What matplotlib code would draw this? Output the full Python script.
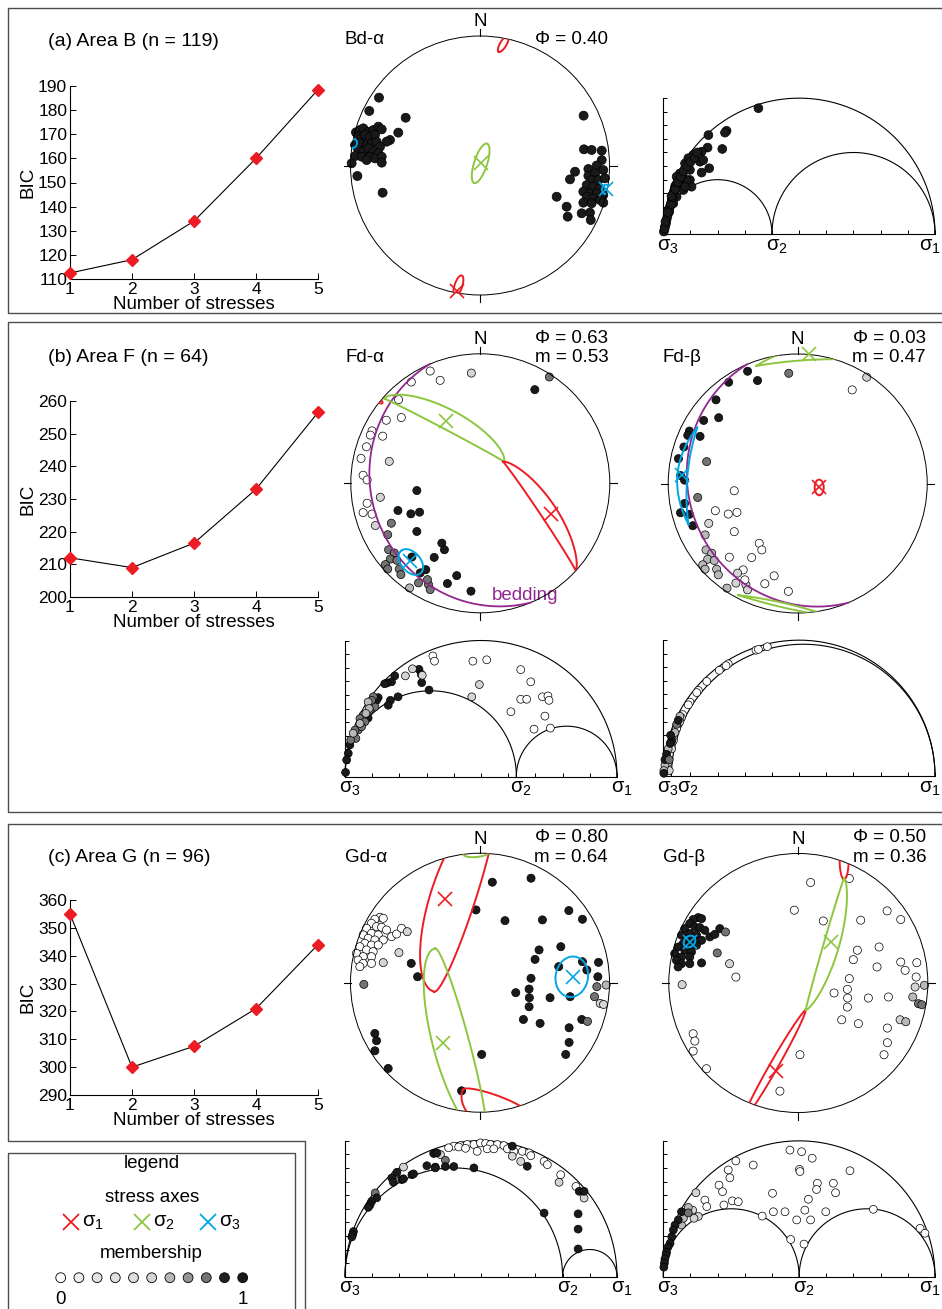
import numpy as np
import matplotlib
matplotlib.use("Agg")
import matplotlib.pyplot as plt
from matplotlib.patches import Circle

plt.rcParams['font.family'] = ['Liberation Sans', 'DejaVu Sans']
plt.rcParams['mathtext.fontset'] = 'custom'
plt.rcParams['mathtext.rm'] = 'Liberation Sans'
plt.rcParams['mathtext.it'] = 'Liberation Sans:italic'

# ---------------------------------------------------------------- data
N_STRESSES = [1, 2, 3, 4, 5]
BIC_B = [112.5, 118.0, 134.0, 160.0, 188.5]
BIC_F = [212.0, 209.0, 216.5, 233.0, 256.5]
BIC_G = [355.0, 300.0, 307.5, 321.0, 344.0]
BIC_TICKS_B = [110, 120, 130, 140, 150, 160, 170, 180, 190]
BIC_TICKS_F = [200, 210, 220, 230, 240, 250, 260]
BIC_TICKS_G = [290, 300, 310, 320, 330, 340, 350, 360]

# stress ratios and mixing weights of each solution
PHI = {'Bd-α': 0.40, 'Fd-α': 0.63, 'Fd-β': 0.03, 'Gd-α': 0.80, 'Gd-β': 0.50}
MIX = {'Fd-α': 0.53, 'Fd-β': 0.47, 'Gd-α': 0.64, 'Gd-β': 0.36}

# poles of area B (equal-area net, east / north)
B_EAST = [-0.78, -0.855, -0.574, -0.958, -0.927, -0.901, -0.862, -0.824, -0.785, -0.759,
          -0.631, -0.94, -0.914, -0.888, -0.849, -0.811, -0.695, -0.721, -0.965, -0.927,
          -0.875, -0.837, -0.798, -0.772, -0.94, -0.901, -0.862, -0.824, -0.785, -0.965,
          -0.914, -0.849, -0.811, -0.759, -0.991, -0.875, -0.759, -0.947, -0.752,
          0.80, 0.803, 0.862, 0.94, 0.94, 0.901, 0.837, 0.734, 0.695, 0.837,
          0.888, 0.952, 0.862, 0.914, 0.965, 0.824, 0.875, 0.927, 0.798, 0.849,
          0.901, 0.952, 0.592, 0.824, 0.875, 0.927, 0.798, 0.862, 0.952, 0.669,
          0.785, 0.849, 0.677, 0.855]
B_NORTH = [0.524, 0.421, 0.369, 0.256, 0.274, 0.287, 0.261, 0.274, 0.30, 0.279,
           0.254, 0.223, 0.21, 0.236, 0.223, 0.236, 0.197, 0.184, 0.158, 0.171,
           0.158, 0.171, 0.184, 0.145, 0.12, 0.107, 0.133, 0.107, 0.094, 0.073,
           0.068, 0.068, 0.055, 0.068, 0.017, 0.042, 0.022, -0.081, -0.21,
           0.385, 0.125, 0.12, 0.115, 0.042, 0.0, -0.027, -0.048, -0.107, -0.079,
           -0.06, -0.035, -0.112, -0.112, -0.099, -0.151, -0.163, -0.176, -0.202, -0.215,
           -0.215, -0.228, -0.241, -0.241, -0.254, -0.266, -0.287, -0.292, -0.287, -0.318,
           -0.369, -0.364, -0.395, -0.421]

# poles of area F and their memberships to solutions alpha / beta
F_EAST = [-0.387, -0.31, -0.533, -0.631, -0.61, -0.726, -0.836, -0.849, -0.754, -0.879,
          -0.921, -0.905, -0.874, -0.874, -0.905, -0.836, -0.81, -0.069, -0.703, -0.772,
          0.533, 0.421, -0.49, -0.636, -0.536, -0.469, -0.49, -0.297, -0.277, -0.356,
          -0.421, -0.464, -0.182, -0.254, -0.072, -0.528, -0.687, -0.715, -0.708, -0.664,
          -0.695, -0.733, -0.715, -0.644, -0.626, -0.613, -0.546, -0.477, -0.4, -0.387,
          -0.408]
F_NORTH = [0.867, 0.795, 0.782, 0.646, 0.508, 0.487, 0.405, 0.372, 0.364, 0.282,
           0.192, 0.062, 0.026, -0.154, -0.226, -0.238, -0.326, 0.851, 0.169, -0.108,
           0.821, 0.723, -0.056, -0.21, -0.236, -0.223, -0.372, -0.462, -0.513, -0.572,
           -0.667, -0.692, -0.713, -0.774, -0.833, -0.569, -0.308, -0.397, -0.513, -0.538,
           -0.585, -0.628, -0.662, -0.595, -0.662, -0.705, -0.808, -0.769, -0.782, -0.821,
           -0.744]
F_M_ALPHA = [0, 0, 0, 0, 0, 0, 0, 0, 0, 0, 0, 0, 0, 0, 0, 0, 0.5, 0.5, 0.5, 0.5,
             0.8, 1, 1, 1, 1, 1, 1, 1, 1, 1, 1, 1, 1, 1, 1, 1, 0.8, 0.8, 0.8, 0.8,
             0.8, 0.8, 0.8, 0.8, 0.8, 0.8, 0.6, 0.8, 0.8, 0.8, 0.8]
F_M_BETA = [1, 1, 1, 1, 1, 1, 1, 1, 1, 1, 1, 1, 1, 1, 1, 1, 1, 0.8, 0.8, 0.8,
            0.5, 0, 0, 0, 0, 0, 0, 0, 0, 0, 0, 0.5, 0, 0, 0, 0, 0.5, 0.6, 0.6, 0.6,
            0.6, 0.6, 0.6, 0.6, 0.6, 0.6, 0.6, 0.5, 0.5, 0.5, 0]
F_BEDDING = (247.0, 17.0)   # dip direction, dip

# poles of area G and their memberships
G_EAST = [-0.773, -0.747, -0.812, -0.838, -0.799, -0.76, -0.722, -0.876, -0.838, -0.786,
          -0.902, -0.863, -0.812, -0.747, -0.683, -0.644, -0.606, -0.889, -0.838, -0.786,
          -0.928, -0.876, -0.825, -0.954, -0.902, -0.838, -0.941, -0.902, -0.838, -0.928,
          -0.562, -0.626, -0.747, -0.897, -0.531, -0.482, -0.812, -0.799, -0.812, -0.709,
          0.095, 0.394, -0.031, 0.193, 0.482, 0.686, 0.791, 0.624, 0.456, 0.425,
          0.608, 0.791, 0.915, 0.825, 0.91, 0.394, 0.276, 0.379, 0.381, 0.541,
          0.696, 0.379, 0.335, 0.464, 0.688, 0.786, 0.688, 0.662, 0.013, -0.142,
          0.902, 0.974, 0.884, 0.928, 0.954, 0.83]
G_NORTH = [0.505, 0.497, 0.49, 0.459, 0.433, 0.428, 0.407, 0.42, 0.381, 0.369,
           0.369, 0.343, 0.33, 0.33, 0.356, 0.376, 0.42, 0.304, 0.291, 0.291,
           0.278, 0.253, 0.24, 0.227, 0.201, 0.201, 0.175, 0.149, 0.149, 0.124,
           0.394, 0.232, 0.155, -0.013, 0.149, 0.046, -0.392, -0.448, -0.526, -0.662,
           0.776, 0.807, 0.562, 0.479, 0.485, 0.557, 0.49, 0.278, 0.253, 0.18,
           0.124, 0.162, 0.157, 0.098, 0.046, 0.034, -0.077, -0.049, -0.116, -0.116,
           -0.108, -0.186, -0.284, -0.314, -0.348, -0.284, -0.461, -0.554, -0.554, -0.835,
           -0.031, -0.018, -0.108, -0.16, -0.168, -0.299]
G_M_ALPHA = [0, 0, 0, 0, 0, 0, 0, 0, 0, 0, 0, 0, 0, 0, 0, 0, 0, 0, 0, 0,
             0, 0, 0, 0, 0, 0, 0, 0, 0, 0, 0.5, 0.5, 0.5, 0.8, 1, 1, 1, 1, 1, 1,
             1, 1, 1, 1, 1, 1, 1, 1, 1, 1, 1, 1, 1, 1, 1, 1, 1, 1, 1, 1,
             1, 1, 1, 1, 1, 1, 1, 1, 1, 1, 0.8, 0.6, 0.8, 0.5, 0.5, 0.8]
G_M_BETA = [1, 1, 1, 1, 1, 1, 1, 1, 1, 1, 1, 1, 1, 1, 1, 1, 1, 1, 1, 1,
            1, 1, 1, 1, 1, 1, 1, 1, 1, 1, 0.8, 0.8, 1, 0.5, 0.5, 0, 0, 0, 0, 0,
            0, 0, 0, 0, 0, 0, 0, 0, 0, 0, 0, 0, 0, 0, 0, 0, 0, 0, 0, 0,
            0, 0, 0, 0, 0, 0.5, 0, 0, 0, 0, 0.5, 0.6, 0.6, 0.8, 0.8, 0.6]

# confidence regions: (axis, centre east, centre north, half length,
#                      width on + side, width on - side, azimuth of long axis, profile power)
BD_REGIONS = [(1, 0.18, 0.938, 0.07, 0.025, 0.025, 59, 0.5),
              (1, -0.167, -0.93, 0.085, 0.03, 0.03, 72, 0.5),
              (2, 0.005, 0.017, 0.16, 0.05, 0.05, 72, 0.5),
              (3, -0.978, 0.171, 0.035, 0.028, 0.028, 80, 0.5),
              (3, 0.97, -0.184, 0.035, 0.028, 0.028, 80, 0.5)]
FA_REGIONS = [(2, -0.279, 0.41, 0.522, 0.165, -0.01, -27.8, 0.6),
              (1, 0.456, -0.253, 0.504, 0.14, -0.015, -56.3, 0.7),
              (1, -0.79, 0.64, 0.04, 0.015, 0.015, -30, 0.5),
              (3, -0.536, -0.608, 0.115, 0.075, 0.075, -48.7, 0.5)]
FB_REGIONS = [(2, 0.1, 0.93, 0.42, 0.12, -0.025, 3, 1.0),
              (2, -0.1, -0.945, 0.37, 0.02, 0.015, -13, 1.0),
              (3, -0.809, 0.06, 0.377, 0.12, -0.043, 84.7, 1.0),
              (1, 0.166, -0.03, 0.06, 0.035, 0.035, 90, 0.5)]
GA_REGIONS = [(1, -0.124, 0.643, 0.75, 0.26, 0.086, 72, 0.5),
              (1, 0.12, -0.92, 0.27, 0.05, 0.2, -20, 0.5),
              (2, -0.154, -0.459, 0.75, 0.07, 0.21, -75, 0.5),
              (2, -0.03, 1.0, 0.1, 0.03, 0.03, 5, 0.5),
              (3, 0.709, 0.046, 0.157, 0.125, 0.125, 80, 0.5)]
GB_REGIONS = [(1, -0.191, -0.643, 0.5, 0.032, 0.032, -119.7, 0.6),
              (1, 0.354, 0.95, 0.15, 0.035, 0.035, 90, 0.5),
              (2, 0.2055, 0.301, 0.531, 0.01, 0.11, 73.8, 0.7),
              (3, -0.84, 0.32, 0.05, 0.04, 0.04, 45, 0.5)]

# optimal principal axes: (axis, east, north)
BD_AXES = [(1, -0.18, -0.966), (2, 0.005, 0.017), (3, 0.97, -0.184)]
FA_AXES = [(1, 0.549, -0.238), (2, -0.267, 0.482), (3, -0.541, -0.603)]
FB_AXES = [(1, 0.166, -0.03), (2, 0.091, 1.0), (3, -0.891, 0.066)]
GA_AXES = [(1, -0.271, 0.647), (2, -0.284, -0.464), (3, 0.72, 0.046)]
GB_AXES = [(1, -0.173, -0.68), (2, 0.251, 0.313), (3, -0.84, 0.32)]

# normalised Mohr-diagram positions (normal stress, shear stress) and memberships
MOHR_B_SN = [0.35, 0.166, 0.233, 0.227, 0.217, 0.163, 0.141, 0.11, 0.135, 0.147,
             0.169, 0.141, 0.08, 0.092, 0.098, 0.098, 0.104, 0.061, 0.055, 0.043,
             0.037, 0.031, 0.025, 0.018, 0.012, 0.006, 0.002, 0.049, 0.067, 0.074,
             0.049, 0.037, 0.022, 0.015, 0.01, 0.086, 0.08, 0.02, 0.028, 0.033,
             0.04, 0.046, 0.06, 0.07, 0.005, 0.008, 0.03, 0.045, 0.052, 0.065,
             0.075, 0.088, 0.1, 0.115, 0.125, 0.016]
MOHR_B_TAU = [0.463, 0.364, 0.38, 0.373, 0.313, 0.318, 0.303, 0.291, 0.266, 0.272,
              0.242, 0.226, 0.26, 0.279, 0.236, 0.199, 0.174, 0.223, 0.199, 0.174,
              0.15, 0.125, 0.101, 0.076, 0.052, 0.027, 0.009, 0.211, 0.187, 0.162,
              0.137, 0.113, 0.082, 0.064, 0.039, 0.199, 0.174, 0.09, 0.11, 0.135,
              0.16, 0.18, 0.2, 0.215, 0.02, 0.045, 0.14, 0.165, 0.19, 0.21,
              0.23, 0.25, 0.265, 0.28, 0.3, 0.08]

MOHR_FA_SN = [0.272, 0.28, 0.282, 0.183, 0.171, 0.155, 0.146, 0.309, 0.195, 0.167,
              0.159, 0.122, 0.116, 0.085, 0.018, 0.012, 0.006, 0.002,
              0.104, 0.11, 0.098, 0.091, 0.067, 0.055, 0.073, 0.049, 0.037, 0.033,
              0.04, 0.021, 0.061,
              0.085, 0.089, 0.077, 0.055, 0.03,
              0.248, 0.222, 0.284, 0.494, 0.466,
              0.323, 0.329, 0.47, 0.521, 0.646, 0.683, 0.646, 0.668, 0.726, 0.746,
              0.75, 0.61, 0.735, 0.695, 0.755]
MOHR_FA_TAU = [0.394, 0.376, 0.345, 0.37, 0.348, 0.344, 0.341, 0.318, 0.293, 0.28,
               0.262, 0.29, 0.28, 0.215, 0.116, 0.085, 0.061, 0.015,
               0.293, 0.256, 0.28, 0.244, 0.226, 0.213, 0.201, 0.171, 0.171, 0.146,
               0.14, 0.134, 0.183,
               0.274, 0.25, 0.232, 0.195, 0.159,
               0.396, 0.37, 0.372, 0.338, 0.293,
               0.443, 0.424, 0.424, 0.429, 0.393, 0.348, 0.284, 0.284, 0.293, 0.296,
               0.28, 0.238, 0.222, 0.174, 0.178]
MOHR_FA_M = [1, 1, 1, 1, 1, 1, 1, 1, 1, 1, 1, 1, 1, 1, 1, 1, 1, 1,
             0.8, 0.8, 0.8, 0.8, 0.8, 0.8, 0.8, 0.8, 0.8, 0.8, 0.8, 0.8, 0.8,
             0.6, 0.6, 0.6, 0.6, 0.6,
             0.5, 0.5, 0.5, 0.5, 0.5,
             0, 0, 0, 0, 0, 0, 0, 0, 0, 0, 0, 0, 0, 0, 0]

MOHR_FB_SN = [0.341, 0.35, 0.383, 0.239, 0.231, 0.206, 0.16, 0.129, 0.123, 0.098,
              0.092, 0.071, 0.061, 0.049, 0.037,
              0.067, 0.061, 0.037, 0.031, 0.018, 0.022,
              0.061, 0.018, 0.006, 0.002, 0.043,
              0.031, 0.025, 0.012, 0.006, 0.002, 0.022, 0.027, 0.049, 0.055]
MOHR_FB_TAU = [0.463, 0.466, 0.476, 0.413, 0.406, 0.389, 0.348, 0.315, 0.307, 0.272,
               0.262, 0.226, 0.205, 0.175, 0.14,
               0.215, 0.2, 0.13, 0.1, 0.05, 0.02,
               0.22, 0.1, 0.04, 0.02, 0.16,
               0.13, 0.12, 0.08, 0.06, 0.01, 0.06, 0.15, 0.19, 0.205]
MOHR_FB_M = [0, 0, 0, 0, 0, 0, 0, 0, 0, 0, 0, 0, 0, 0, 0,
             0.5, 0.5, 0.5, 0.5, 0.5, 0.5,
             0.6, 0.6, 0.6, 0.6, 0.6,
             1, 1, 1, 1, 1, 0.8, 1, 0.8, 1]

MOHR_GA_SN = [0.424, 0.449, 0.474, 0.498, 0.517, 0.535, 0.56, 0.584, 0.4, 0.381,
              0.486, 0.523, 0.547, 0.597, 0.621, 0.652, 0.677, 0.683, 0.732, 0.744,
              0.793, 0.849, 0.418, 0.443,
              0.351, 0.615, 0.646, 0.787, 0.879, 0.215,
              0.369, 0.185, 0.111,
              0.326, 0.338, 0.615, 0.67, 0.301, 0.332, 0.332, 0.369, 0.4, 0.474,
              0.246, 0.252, 0.209, 0.215, 0.172, 0.178, 0.191, 0.117, 0.098, 0.092,
              0.086, 0.031, 0.028, 0.025, 0.732, 0.861, 0.879, 0.857, 0.857, 0.857]
MOHR_GA_TAU = [0.482, 0.486, 0.486, 0.492, 0.49, 0.486, 0.486, 0.482, 0.48, 0.474,
               0.461, 0.47, 0.47, 0.47, 0.461, 0.461, 0.455, 0.445, 0.424, 0.412,
               0.375, 0.332, 0.477, 0.472,
               0.449, 0.443, 0.424, 0.347, 0.289, 0.403,
               0.428, 0.375, 0.308,
               0.453, 0.455, 0.48, 0.406, 0.408, 0.403, 0.4, 0.405, 0.405, 0.4,
               0.375, 0.378, 0.357, 0.36, 0.363, 0.347, 0.384, 0.29, 0.277, 0.264,
               0.255, 0.166, 0.154, 0.146, 0.234, 0.314, 0.314, 0.231, 0.175, 0.102]
MOHR_GA_M = [0, 0, 0, 0, 0, 0, 0, 0, 0, 0, 0, 0, 0, 0, 0, 0, 0, 0, 0, 0, 0, 0, 0, 0,
             0.5, 0.5, 0.5, 0.5, 0.5, 0.5,
             0.8, 0.8, 0.8,
             1, 1, 1, 1, 1, 1, 1, 1, 1, 1, 1, 1, 1, 1, 1, 1, 1, 1, 1, 1,
             1, 1, 1, 1, 1, 1, 1, 1, 1, 1]

MOHR_GB_SN = [0.466, 0.509, 0.548, 0.501, 0.503, 0.687, 0.267, 0.239, 0.245, 0.331,
              0.205, 0.218, 0.402, 0.634, 0.567, 0.564, 0.534, 0.153, 0.16, 0.223,
              0.254, 0.276, 0.364, 0.405, 0.448, 0.491, 0.521, 0.542, 0.598, 0.773,
              0.945, 0.963, 0.469, 0.518, 0.626,
              0.12, 0.108, 0.129, 0.113,
              0.067, 0.092, 0.074,
              0.067, 0.055, 0.043, 0.037, 0.031, 0.025, 0.018, 0.012, 0.01, 0.006,
              0.004, 0.002, 0.092]
MOHR_GB_TAU = [0.466, 0.46, 0.436, 0.395, 0.387, 0.39, 0.426, 0.393, 0.364, 0.411,
               0.337, 0.313, 0.307, 0.309, 0.344, 0.321, 0.285, 0.282, 0.258, 0.264,
               0.279, 0.276, 0.223, 0.239, 0.239, 0.209, 0.245, 0.209, 0.239, 0.248,
               0.178, 0.16, 0.137, 0.12, 0.344,
               0.309, 0.245, 0.222, 0.215,
               0.19, 0.255, 0.215,
               0.239, 0.209, 0.19, 0.172, 0.147, 0.123, 0.11, 0.09, 0.08, 0.065,
               0.05, 0.035, 0.235]
MOHR_GB_M = [0, 0, 0, 0, 0, 0, 0, 0, 0, 0, 0, 0, 0, 0, 0, 0, 0, 0, 0, 0,
             0, 0, 0, 0, 0, 0, 0, 0, 0, 0, 0, 0, 0, 0, 0,
             0.5, 0.5, 0.5, 0.5,
             0.6, 0.6, 0.6,
             1, 1, 1, 1, 1, 1, 1, 1, 1, 1, 1, 1, 0.8]

# membership scale shown in the legend
LEGEND_M = [0.0, 0.1, 0.2, 0.3, 0.4, 0.5, 0.6, 0.7, 0.8, 0.9, 1.0]
LEGEND_GRAY = [1.0, 0.93, 0.89, 0.88, 0.87, 0.83, 0.72, 0.58, 0.45, 0.13, 0.1]

# ---------------------------------------------------------------- styling
RED = '#ed1c24'
GREEN = '#8cc63f'
BLUE = '#00a6e6'
PURPLE = '#92278f'
BOX = '#4d4d4d'
AXIS_COLOR = {1: RED, 2: GREEN, 3: BLUE}
FS = 13.5

W, H = 942, 1309
fig = plt.figure(figsize=(W / 100, H / 100), dpi=100, facecolor='white')

ov = fig.add_axes([0, 0, 1, 1])
ov.set_xlim(0, W)
ov.set_ylim(H, 0)
ov.axis('off')


def px_axes(x0, y0, x1, y1):
    ax = fig.add_axes([x0 / W, 1 - y1 / H, (x1 - x0) / W, (y1 - y0) / H])
    ax.patch.set_alpha(0)
    return ax


def shade(m):
    g = float(np.interp(m, LEGEND_M, LEGEND_GRAY))
    return (g, g, g)


def region_outline(cx, cy, a, bp, bn, ang, p, n=240):
    s = np.linspace(-1, 1, n)
    prof = (1 - s ** 2) ** p
    xs = np.concatenate([a * s, a * s[::-1]])
    ys = np.concatenate([bp * prof, -bn * prof[::-1]])
    t = np.radians(ang)
    return (cx + xs * np.cos(t) - ys * np.sin(t),
            cy + xs * np.sin(t) + ys * np.cos(t))


def great_circle(dip_dir, dip):
    dd, dp = np.radians(dip_dir), np.radians(dip)
    st = dd - np.pi / 2
    t = np.linspace(0, np.pi, 300)
    e = np.cos(t) * np.sin(st) + np.sin(t) * np.sin(dd) * np.cos(dp)
    n = np.cos(t) * np.cos(st) + np.sin(t) * np.cos(dd) * np.cos(dp)
    d = np.sin(t) * np.sin(dp)
    plunge = np.arcsin(np.clip(d, -1, 1))
    trend = np.arctan2(e, n)
    r = np.sqrt(2) * np.sin((np.pi / 2 - plunge) / 2)
    return r * np.sin(trend), r * np.cos(trend)


R_PX = 129.5


def stereonet(cx, cy, name, east, north, memb, regions, axes_pts, bedding=None, dot=34):
    pad = 1.25
    ax = px_axes(cx - pad * R_PX, cy - pad * R_PX, cx + pad * R_PX, cy + pad * R_PX)
    ax.set_xlim(-pad, pad)
    ax.set_ylim(-pad, pad)
    ax.axis('off')
    prim = Circle((0, 0), 1.0, fill=False, ec='black', lw=0.7, zorder=3)
    ax.add_patch(prim)
    tk = 7.0 / R_PX
    for az in (0, 90, 180, 270):
        e, n = np.sin(np.radians(az)), np.cos(np.radians(az))
        ax.plot([e, e * (1 + tk)], [n, n * (1 + tk)], color='black', lw=0.8,
                zorder=3, clip_on=False)
    ax.scatter(east, north, s=dot, c=[shade(v) for v in memb], edgecolors='black',
               linewidths=0.5, zorder=2, clip_on=False)
    if bedding is not None:
        be, bn = great_circle(*bedding)
        ax.plot(be, bn, color=PURPLE, lw=1.3, zorder=3.5)
    for reg in regions:
        x, y = region_outline(*reg[1:])
        line, = ax.plot(x, y, color=AXIS_COLOR[reg[0]], lw=1.4, zorder=4)
        line.set_clip_path(prim)
    for k, e, n in axes_pts:
        ax.plot(e, n, ls='none', marker='x', ms=10.5, mew=1.2,
                color=AXIS_COLOR[k], zorder=5, clip_on=False)
    ov.text(cx, cy - R_PX - 14, 'N', ha='center', va='center', fontsize=FS)
    ov.text(cx - 135, cy - 125.5, name, ha='left', va='center', fontsize=FS)
    if name in MIX:
        ov.text(cx + 128, cy - 145, 'Φ = %.2f' % PHI[name], ha='right', va='center', fontsize=FS)
        ov.text(cx + 128, cy - 125.5, 'm = %.2f' % MIX[name], ha='right', va='center', fontsize=FS)
    else:
        ov.text(cx + 128, cy - 125.5, 'Φ = %.2f' % PHI[name], ha='right', va='center', fontsize=FS)
    return ax


def mohr(x0, x1, ybase, phi, sn, tau, memb, dot=32):
    L = x1 - x0
    ax = px_axes(x0, ybase - 0.5 * L, x1, ybase)
    ax.set_xlim(0, 1)
    ax.set_ylim(0, 0.5)
    for sp in ('top', 'right'):
        ax.spines[sp].set_visible(False)
    for sp in ('left', 'bottom'):
        ax.spines[sp].set_linewidth(0.8)
    ax.set_xticks(np.arange(0, 1.001, 0.1))
    ax.set_yticks(np.arange(0, 0.5001, 0.05))
    ax.tick_params(direction='in', length=3, width=0.7,
                   labelbottom=False, labelleft=False)
    t = np.linspace(0, np.pi, 400)
    for c, r in ((0.5, 0.5), (phi / 2, phi / 2), ((1 + phi) / 2, (1 - phi) / 2)):
        ax.plot(c + r * np.cos(t), r * np.sin(t), color='black', lw=0.8, clip_on=False)
    ax.scatter(sn, tau, s=dot, c=[shade(v) for v in memb], edgecolors='black',
               linewidths=0.5, zorder=3, clip_on=False)
    x2 = max(x0 + phi * L, x0 + 20)
    for xp, sub in ((x0, '3'), (x2, '2'), (min(x1, W - 17), '1')):
        ov.text(xp - 6, ybase + 12, r'$\mathregular{\sigma_{%s}}$' % sub,
                ha='left', va='center', fontsize=14.5)
    return ax


def bic_panel(ytop, ybot, vals, ticks, title, title_y):
    ax = px_axes(70, ytop, 318, ybot)
    ax.plot(N_STRESSES, vals, color='black', lw=0.8, zorder=2, clip_on=False)
    ax.plot(N_STRESSES, vals, ls='none', marker='D', ms=6.5, mfc=RED, mec=RED,
            zorder=3, clip_on=False)
    ax.set_xlim(1, 5)
    ax.set_ylim(ticks[0], ticks[-1])
    ax.set_xticks(N_STRESSES)
    ax.set_yticks(ticks)
    for sp in ('top', 'right'):
        ax.spines[sp].set_visible(False)
    for sp in ('left', 'bottom'):
        ax.spines[sp].set_linewidth(0.8)
    ax.tick_params(direction='in', length=4, width=0.7, labelsize=12.5, pad=2)
    ov.text(194, ybot + 25.5, 'Number of stresses', ha='center', va='center', fontsize=FS)
    ov.text(28, (ytop + ybot) / 2, 'BIC', rotation=90, ha='center', va='center', fontsize=FS)
    ov.text(48, title_y, title, ha='left', va='center', fontsize=14)
    return ax


# ---------------------------------------------------------------- panel frames
ov.plot([942, 8, 8, 942], [8, 8, 313, 313], color=BOX, lw=1.0)
ov.plot([942, 8, 8, 942], [322, 322, 812, 812], color=BOX, lw=1.0)
ov.plot([942, 8, 8, 305, 305], [824, 824, 1141, 1141, 1309], color=BOX, lw=1.0)
ov.plot([8, 8, 295, 295], [1309, 1153, 1153, 1309], color=BOX, lw=1.0)

# ---------------------------------------------------------------- (a) Area B
bic_panel(86, 279, BIC_B, BIC_TICKS_B, '(a) Area B (n = 119)', 42)
stereonet(480, 165.5, 'Bd-α', B_EAST, B_NORTH, [1.0] * len(B_EAST), BD_REGIONS, BD_AXES, dot=42)
mohr(663.3, 935, 234, PHI['Bd-α'], MOHR_B_SN, MOHR_B_TAU, [1.0] * len(MOHR_B_SN), dot=40)

# ---------------------------------------------------------------- (b) Area F
bic_panel(401, 597, BIC_F, BIC_TICKS_F, '(b) Area F (n = 64)', 357)
stereonet(480.3, 483.3, 'Fd-α', F_EAST, F_NORTH, F_M_ALPHA, FA_REGIONS, FA_AXES, bedding=F_BEDDING)
ov.text(492, 595, 'bedding', color=PURPLE, ha='left', va='center', fontsize=FS)
stereonet(797.7, 483.5, 'Fd-β', F_EAST, F_NORTH, F_M_BETA, FB_REGIONS, FB_AXES, bedding=F_BEDDING)
mohr(345, 617, 776.5, PHI['Fd-α'], MOHR_FA_SN, MOHR_FA_TAU, MOHR_FA_M)
mohr(663.3, 935, 776, PHI['Fd-β'], MOHR_FB_SN, MOHR_FB_TAU, MOHR_FB_M)

# ---------------------------------------------------------------- (c) Area G
bic_panel(900, 1095, BIC_G, BIC_TICKS_G, '(c) Area G (n = 96)', 857)
stereonet(480, 982.7, 'Gd-α', G_EAST, G_NORTH, G_M_ALPHA, GA_REGIONS, GA_AXES)
stereonet(798.3, 983, 'Gd-β', G_EAST, G_NORTH, G_M_BETA, GB_REGIONS, GB_AXES)
mohr(345, 617, 1276.7, PHI['Gd-α'], MOHR_GA_SN, MOHR_GA_TAU, MOHR_GA_M)
mohr(663.3, 935, 1276.7, PHI['Gd-β'], MOHR_GB_SN, MOHR_GB_TAU, MOHR_GB_M)

# ---------------------------------------------------------------- legend
ov.text(151.7, 1163, 'legend', ha='center', va='center', fontsize=FS)
ov.text(151.7, 1198, 'stress axes', ha='center', va='center', fontsize=FS)
for k, xm in zip((1, 2, 3), (71, 141.7, 208)):
    ov.plot(xm, 1222, ls='none', marker='x', ms=11, mew=1.3, color=AXIS_COLOR[k])
    ov.text(xm + 11, 1223, r'$\mathregular{\sigma_{%d}}$' % k, ha='left', va='center',
            fontsize=14.5)
ov.text(151.7, 1253, 'membership', ha='center', va='center', fontsize=FS)
leg_x = 60.7 + 18.2 * np.arange(len(LEGEND_M))
ov.scatter(leg_x, np.full(len(LEGEND_M), 1277.7), s=50,
           c=[shade(v) for v in LEGEND_M], edgecolors='black', linewidths=0.6)
ov.text(leg_x[0], 1299, '0', ha='center', va='center', fontsize=FS)
ov.text(leg_x[-1], 1299, '1', ha='center', va='center', fontsize=FS)

fig.savefig('out.png', dpi=100, facecolor='white')
